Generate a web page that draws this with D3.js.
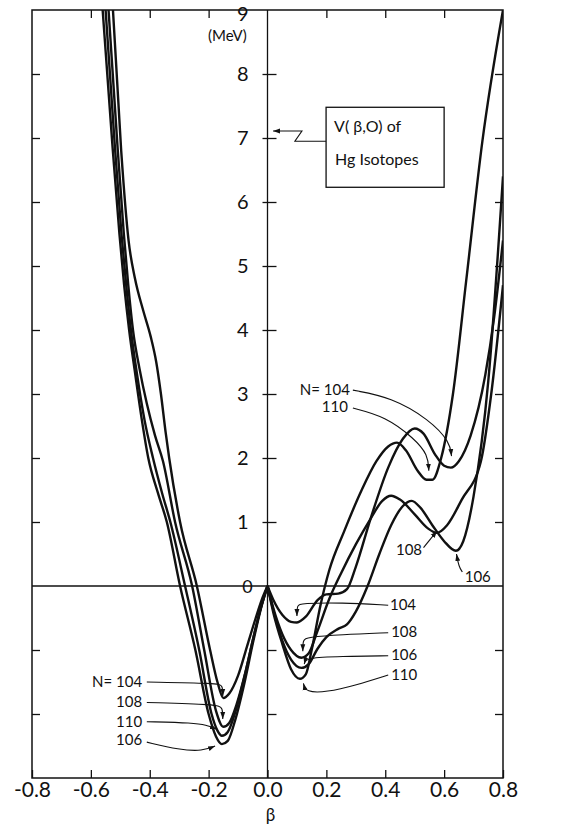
<!DOCTYPE html>
<html>
<head>
<meta charset="utf-8">
<script src="https://cdn.jsdelivr.net/npm/d3@7"></script>
<style>
  body { margin: 0; background: #fff; }
  text { font-family: Lato, "Open Sans", sans-serif; fill: #111; }
</style>
</head>
<body>
<div id="chart"></div>
<script>
// potential curves V(beta, 0) for each isotope, [beta, MeV]
const curve104 = [[-0.525,9],[-0.497,6.8],[-0.472,5.4],[-0.45,4.8],[-0.422,4.3],[-0.397,3.9],[-0.378,3.5],[-0.362,3.0],[-0.346,2.4],[-0.334,2.0],[-0.297,1.0],[-0.24,0],[-0.195,-1.0],[-0.17,-1.5],[-0.15,-1.75],[-0.13,-1.68],[-0.1,-1.4],[-0.07,-0.95],[-0.04,-0.5],[-0.02,-0.22],[0,0],
  [0.02,-0.22],[0.05,-0.45],[0.08,-0.56],[0.1,-0.57],[0.13,-0.48],[0.17,-0.22],[0.2,-0.13],[0.24,-0.12],[0.27,-0.05],[0.3,0.3],[0.35,1.05],[0.41,1.85],[0.46,2.3],[0.5,2.46],[0.53,2.38],[0.57,2.05],[0.6,1.88],[0.623,1.85],[0.65,1.95],[0.69,2.35],[0.74,3.3],[0.77,4.2],[0.8,5.4]];
const curve106 = [[-0.56,9],[-0.527,6.9],[-0.503,5.5],[-0.487,4.7],[-0.47,4.0],[-0.449,3.3],[-0.427,2.6],[-0.405,2.0],[-0.372,1.45],[-0.342,1.0],[-0.297,0],[-0.245,-1.0],[-0.2,-2.0],[-0.175,-2.35],[-0.155,-2.47],[-0.135,-2.42],[-0.11,-2.1],[-0.08,-1.55],[-0.05,-0.9],[-0.025,-0.4],[0,0],
  [0.02,-0.38],[0.05,-0.85],[0.08,-1.15],[0.115,-1.28],[0.14,-1.22],[0.17,-0.98],[0.2,-0.8],[0.24,-0.67],[0.27,-0.6],[0.3,-0.4],[0.34,0.0],[0.38,0.5],[0.42,0.95],[0.46,1.25],[0.49,1.33],[0.52,1.22],[0.56,0.95],[0.6,0.7],[0.64,0.55],[0.665,0.7],[0.7,1.4],[0.75,3.2],[0.8,6.4]];
const curve108 = [[-0.54,9],[-0.51,6.9],[-0.488,5.5],[-0.473,4.7],[-0.457,4.0],[-0.435,3.4],[-0.41,2.85],[-0.382,2.35],[-0.355,1.95],[-0.314,1.0],[-0.256,0],[-0.215,-1.0],[-0.175,-1.95],[-0.15,-2.2],[-0.13,-2.14],[-0.105,-1.85],[-0.075,-1.35],[-0.045,-0.75],[-0.022,-0.33],[0,0],
  [0.02,-0.35],[0.05,-0.75],[0.08,-1.0],[0.115,-1.12],[0.14,-1.05],[0.17,-0.7],[0.21,-0.2],[0.25,0.2],[0.3,0.65],[0.35,1.05],[0.39,1.33],[0.42,1.41],[0.45,1.35],[0.5,1.12],[0.545,0.9],[0.575,0.83],[0.61,0.95],[0.66,1.35],[0.725,1.95],[0.76,3.0],[0.8,4.7]];
const curve110 = [[-0.55,9],[-0.519,6.9],[-0.496,5.5],[-0.48,4.7],[-0.464,4.0],[-0.443,3.3],[-0.418,2.6],[-0.389,2.0],[-0.358,1.45],[-0.33,1.0],[-0.28,0],[-0.232,-1.0],[-0.19,-2.0],[-0.17,-2.26],[-0.155,-2.34],[-0.135,-2.28],[-0.11,-1.98],[-0.08,-1.45],[-0.05,-0.85],[-0.025,-0.38],[0,0],
  [0.02,-0.42],[0.05,-0.9],[0.08,-1.3],[0.11,-1.45],[0.13,-1.38],[0.15,-1.0],[0.18,-0.3],[0.21,0.25],[0.26,0.85],[0.32,1.5],[0.37,1.95],[0.41,2.18],[0.44,2.24],[0.47,2.12],[0.51,1.8],[0.54,1.66],[0.56,1.66],[0.59,2.0],[0.63,3.0],[0.675,4.77],[0.73,6.95],[0.8,9]];

const curves = [curve104, curve106, curve108, curve110];

const xTicks = [-0.8, -0.6, -0.4, -0.2, 0.0, 0.2, 0.4, 0.6, 0.8];
const xTopTicks = [-0.6, -0.4, -0.2, 0.2, 0.4, 0.6];
const yTicks = [-2, -1, 1, 2, 3, 4, 5, 6, 7, 8];
const yLabels = [1, 2, 3, 4, 5, 6, 7, 8, 9];

// isotope labels: text, where the text sits, leader path (arrow at its end)
const labels = [
  { text: 'N= 104', at: [-0.426, -1.52], anchor: 'end',   path: [[-0.41,-1.5],[-0.17,-1.52],[-0.152,-1.55],[-0.152,-1.72]] },
  { text: '108',    at: [-0.426, -1.83], anchor: 'end',   path: [[-0.41,-1.82],[-0.17,-1.85],[-0.152,-1.9],[-0.152,-2.08]] },
  { text: '110',    at: [-0.426, -2.14], anchor: 'end',   path: [[-0.41,-2.12],[-0.25,-2.14],[-0.21,-2.17],[-0.172,-2.24]] },
  { text: '106',    at: [-0.426, -2.43], anchor: 'end',   path: [[-0.41,-2.44],[-0.3,-2.56],[-0.22,-2.58],[-0.178,-2.5]] },
  { text: '104',    at: [0.416, -0.31],  anchor: 'start', path: [[0.41,-0.3],[0.25,-0.26],[0.115,-0.27],[0.1,-0.3],[0.1,-0.47]] },
  { text: '108',    at: [0.42, -0.73],   anchor: 'start', path: [[0.41,-0.73],[0.25,-0.76],[0.135,-0.8],[0.12,-0.84],[0.12,-1.02]] },
  { text: '106',    at: [0.42, -1.09],   anchor: 'start', path: [[0.41,-1.09],[0.25,-1.1],[0.13,-1.12],[0.125,-1.22]] },
  { text: '110',    at: [0.42, -1.41],   anchor: 'start', path: [[0.41,-1.39],[0.3,-1.55],[0.2,-1.66],[0.13,-1.66],[0.122,-1.52]] },
  { text: 'N= 104', at: [0.28, 3.05],    anchor: 'end',   path: [[0.29,3.06],[0.42,2.95],[0.55,2.6],[0.62,2.25],[0.625,2.03]] },
  { text: '110',    at: [0.273, 2.78],   anchor: 'end',   path: [[0.29,2.78],[0.4,2.65],[0.5,2.3],[0.545,2.05],[0.548,1.8]] },
  { text: '108',    at: [0.525, 0.55],   anchor: 'end',   path: [[0.53,0.6],[0.576,0.86]] },
  { text: '106',    at: [0.67, 0.12],    anchor: 'start', path: [[0.662,0.22],[0.65,0.3],[0.642,0.5]] }
];

const width = 569, height = 834;
const margin = { top: 10, right: 66, bottom: 56, left: 32 };

const x = d3.scaleLinear().domain([-0.8, 0.8]).range([margin.left, width - margin.right]);
const y = d3.scaleLinear().domain([-3, 9]).range([height - margin.bottom, margin.top]);

const svg = d3.select('#chart').append('svg')
  .attr('width', width)
  .attr('height', height);

const defs = svg.append('defs');
defs.append('clipPath').attr('id', 'plot')
  .append('rect')
  .attr('x', x(-0.8)).attr('y', y(9))
  .attr('width', x(0.8) - x(-0.8)).attr('height', y(-3) - y(9));
defs.append('marker')
  .attr('id', 'arr')
  .attr('viewBox', '0 0 10 10')
  .attr('refX', 10).attr('refY', 5)
  .attr('markerUnits', 'userSpaceOnUse')
  .attr('markerWidth', 7).attr('markerHeight', 7)
  .attr('orient', 'auto')
  .append('path').attr('d', 'M0,1.5L10,5L0,8.5z').attr('fill', '#111');

// frame
svg.append('rect')
  .attr('x', x(-0.8)).attr('y', y(9))
  .attr('width', x(0.8) - x(-0.8)).attr('height', y(-3) - y(9))
  .attr('fill', 'none').attr('stroke', '#111').attr('stroke-width', 1.5);

function styleAxis(g) {
  g.select('.domain').remove();
  g.selectAll('line').attr('stroke', '#111').attr('stroke-width', 1.3);
  g.attr('font-family', null);
}

// inward ticks on the frame
svg.append('g').attr('transform', `translate(0,${y(-3)})`)
  .call(d3.axisBottom(x).tickValues(xTicks).tickSize(-8).tickPadding(4).tickFormat(d => d3.format('.1f')(d).replace('−', '-')))
  .call(styleAxis)
  .call(g => g.selectAll('text').attr('font-size', 21));
svg.append('g').attr('transform', `translate(0,${y(9)})`)
  .call(d3.axisTop(x).tickValues(xTopTicks).tickSize(-8).tickFormat(''))
  .call(styleAxis);
svg.append('g').attr('transform', `translate(${x(-0.8)},0)`)
  .call(d3.axisLeft(y).tickValues(yTicks).tickSize(-8).tickFormat(''))
  .call(styleAxis);
svg.append('g').attr('transform', `translate(${x(0.8)},0)`)
  .call(d3.axisRight(y).tickValues(yTicks).tickSize(-8).tickFormat(''))
  .call(styleAxis);

// zero lines
svg.append('line')
  .attr('x1', x(-0.8)).attr('x2', x(0.8)).attr('y1', y(0)).attr('y2', y(0))
  .attr('stroke', '#111').attr('stroke-width', 1.3);
svg.append('line')
  .attr('x1', x(0)).attr('x2', x(0)).attr('y1', y(9)).attr('y2', y(-3))
  .attr('stroke', '#111').attr('stroke-width', 1.3);

// ticks and labels on the beta = 0 axis
svg.append('g').attr('transform', `translate(${x(0)},0)`)
  .call(d3.axisLeft(y).tickValues(yLabels).tickSize(5).tickPadding(14))
  .call(styleAxis)
  .call(g => g.selectAll('text').attr('font-size', 20))
  .call(g => g.selectAll('.tick').filter(d => d === 9).select('line').remove())
  .call(g => g.selectAll('.tick').filter(d => d === 9).select('text').attr('dy', '0.5em'));
svg.append('g').attr('transform', `translate(${x(0)},0)`)
  .call(d3.axisRight(y).tickValues(yTicks).tickSize(9).tickFormat(''))
  .call(styleAxis);

svg.append('text')
  .attr('x', x(0) - 20).attr('y', y(0) + 2)
  .attr('text-anchor', 'middle').attr('dominant-baseline', 'middle')
  .attr('font-size', 18).text('0');

svg.append('text')
  .attr('x', x(0) - 40).attr('y', y(8.58))
  .attr('text-anchor', 'middle').attr('dominant-baseline', 'middle')
  .attr('font-size', 15).text('(MeV)');

svg.append('text')
  .attr('x', x(0) + 3).attr('y', height - 17)
  .attr('text-anchor', 'middle').attr('dominant-baseline', 'middle')
  .attr('font-size', 17).text('β');

// the curves, each drawn in two halves so the peak at beta = 0 is a cusp
const line = d3.line()
  .x(d => x(d[0]))
  .y(d => y(d[1]))
  .curve(d3.curveMonotoneX);

const plot = svg.append('g').attr('clip-path', 'url(#plot)');
curves.forEach(c => {
  [c.filter(d => d[0] <= 0), c.filter(d => d[0] >= 0)].forEach(part => {
    plot.append('path')
      .attr('d', line(part))
      .attr('fill', 'none')
      .attr('stroke', '#111')
      .attr('stroke-width', 2.4)
      .attr('stroke-linejoin', 'round');
  });
});

// leader lines and isotope labels
const leader = d3.line()
  .x(d => x(d[0]))
  .y(d => y(d[1]))
  .curve(d3.curveBasis);

labels.forEach(l => {
  svg.append('path')
    .attr('d', leader(l.path))
    .attr('fill', 'none')
    .attr('stroke', '#111')
    .attr('stroke-width', 1.1)
    .attr('marker-end', 'url(#arr)');
  svg.append('text')
    .attr('x', x(l.at[0])).attr('y', y(l.at[1]))
    .attr('text-anchor', l.anchor)
    .attr('dominant-baseline', 'middle')
    .attr('font-size', 15)
    .text(l.text);
});

// title box
const boxX0 = 0.199, boxX1 = 0.6, boxY0 = 7.48, boxY1 = 6.23;
svg.append('rect')
  .attr('x', x(boxX0)).attr('y', y(boxY0))
  .attr('width', x(boxX1) - x(boxX0)).attr('height', y(boxY1) - y(boxY0))
  .attr('fill', '#fff').attr('stroke', '#111').attr('stroke-width', 1.3);
svg.append('text')
  .attr('x', x(boxX0) + 8).attr('y', y(7.1))
  .attr('font-size', 16).text('V( β,O)  of');
svg.append('text')
  .attr('x', x(boxX0) + 9).attr('y', y(6.58))
  .attr('font-size', 16).text('Hg  Isotopes');

svg.append('path')
  .attr('d', d3.line().x(d => x(d[0])).y(d => y(d[1]))([[boxX0, 6.95], [0.093, 6.95], [0.117, 7.11], [0.019, 7.11]]))
  .attr('fill', 'none')
  .attr('stroke', '#111')
  .attr('stroke-width', 1.1)
  .attr('marker-end', 'url(#arr)');
</script>
</body>
</html>
